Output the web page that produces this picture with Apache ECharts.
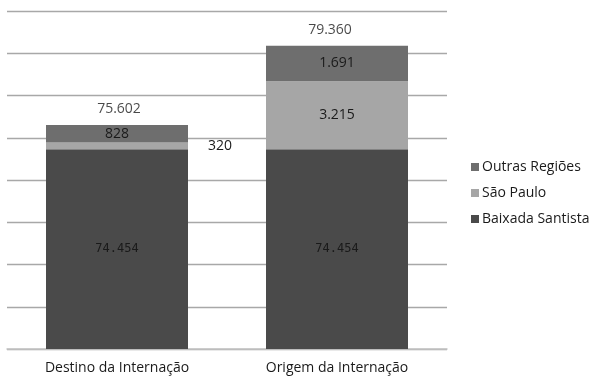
<!DOCTYPE html>
<html>
<head>
<meta charset="utf-8">
<script src="https://cdn.jsdelivr.net/npm/echarts@6/dist/echarts.min.js"></script>
<style>
  html, body { margin: 0; padding: 0; background: #fff; }
  #chart { width: 591px; height: 377px; }
</style>
</head>
<body>
<div id="chart"></div>
<script>
// Internações: destino vs. origem, empilhado por região
const categories = ['Destino da Internação', 'Origem da Internação'];
const baixadaSantista = [74454, 74454];
const saoPaulo = [320, 3215];
const outrasRegioes = [828, 1691];
const totais = [75602, 79360];

const FONT = '"Open Sans", "DejaVu Sans", sans-serif';
const fmt = v => v.toLocaleString('de-DE');

const chart = echarts.init(document.getElementById('chart'), null, { renderer: 'canvas' });

const insideLabel = {
  show: true,
  position: 'inside',
  color: '#1a1a1a',
  fontFamily: FONT,
  fontSize: 14,
  formatter: p => fmt(p.value)
};

chart.setOption({
  animation: false,
  textStyle: { fontFamily: FONT },
  grid: { left: 7, right: 144, top: 11, bottom: 28, containLabel: false },
  legend: {
    orient: 'vertical',
    left: 466,
    top: 155,
    itemWidth: 8,
    itemHeight: 8,
    itemGap: 12,
    icon: 'rect',
    textStyle: { fontFamily: FONT, fontSize: 14, color: '#1a1a1a', padding: [0, 0, 0, -2] },
    data: ['Outras Regiões', 'São Paulo', 'Baixada Santista']
  },
  xAxis: {
    type: 'category',
    data: categories,
    axisTick: { show: false },
    axisLine: { lineStyle: { color: '#c4c4c4', width: 1.5 } },
    axisLabel: { color: '#1a1a1a', fontSize: 14, fontFamily: FONT, margin: 12 }
  },
  yAxis: {
    type: 'value',
    min: 65000,
    max: 81000,
    interval: 2000,
    axisLabel: { show: false },
    axisLine: { show: false },
    axisTick: { show: false },
    splitLine: { lineStyle: { color: '#a8a8a8', width: 1.3 } }
  },
  series: [
    {
      name: 'Baixada Santista',
      type: 'bar',
      stack: 'total',
      barWidth: 142,
      itemStyle: { color: '#4a4a4a' },
      label: Object.assign({}, insideLabel, { fontFamily: '"DejaVu Sans Mono", monospace', fontSize: 12 }),
      data: baixadaSantista
    },
    {
      name: 'São Paulo',
      type: 'bar',
      stack: 'total',
      itemStyle: { color: '#a6a6a6' },
      label: insideLabel,
      data: saoPaulo.map((v, i) => i === 0
        ? { value: v, label: { position: 'right', distance: 20 } }
        : v)
    },
    {
      name: 'Outras Regiões',
      type: 'bar',
      stack: 'total',
      itemStyle: { color: '#6e6e6e' },
      label: insideLabel,
      data: outrasRegioes
    },
    {
      // rótulos de total acima de cada coluna
      name: 'Total',
      type: 'scatter',
      symbolSize: 0,
      silent: true,
      label: {
        show: true,
        position: 'top',
        distance: 9,
        color: '#1a1a1a',
        fontFamily: FONT,
        fontSize: 14,
        formatter: p => fmt(p.value)
      },
      data: totais.map((v, i) => ({ value: v, label: { offset: [i === 0 ? 2 : -7, 0] } }))
    }
  ]
});
</script>
</body>
</html>
